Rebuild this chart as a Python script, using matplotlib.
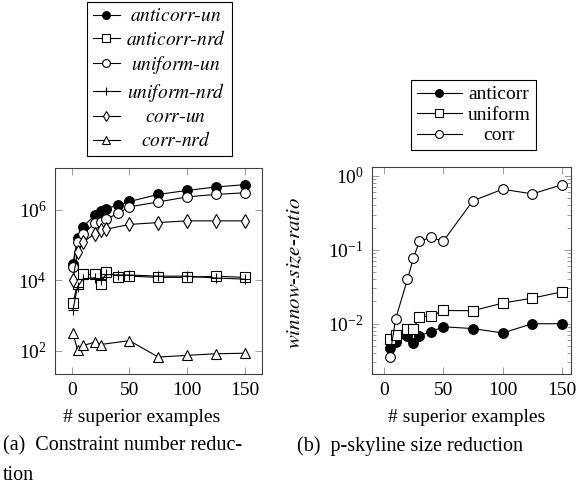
import numpy as np
import matplotlib.pyplot as plt
from matplotlib.ticker import FixedLocator, LogLocator, NullLocator

plt.rcParams['font.family'] = ['Liberation Serif', 'DejaVu Serif']
plt.rcParams['mathtext.fontset'] = 'stix'
plt.rcParams['font.size'] = 14

# --- (a) constraint number reduction ---
x_a = [1, 5, 10, 20, 25, 30, 40, 50, 75, 100, 125, 150]
anticorr_un = [2.9e4, 1.6e5, 3.3e5, 7.0e5, 9.0e5, 1.06e6, 1.35e6, 1.7e6, 2.7e6, 3.5e6, 4.4e6, 5.1e6]
anticorr_nrd = [2.2e3, 8.0e3, 1.45e4, 1.45e4, 7.8e3, 1.75e4, 1.25e4, 1.3e4, 1.2e4, 1.2e4, 1.3e4, 1.2e4]
uniform_un = [2.3e4, 1.2e5, 2.1e5, 4.1e5, 4.5e5, 5.3e5, 7.9e5, 1.2e6, 1.65e6, 2.3e6, 2.7e6, 3.0e6]
uniform_nrd = [1.4e3, 6.5e3, 1.1e4, 1.17e4, 1.0e4, 1.45e4, 1.4e4, 1.4e4, 1.3e4, 1.3e4, 1.15e4, 1.07e4]
x_corr_un = [1, 5, 10, 20, 25, 30, 50, 75, 100, 125, 150]
corr_un = [1.0e4, 6.3e4, 1.2e5, 2.1e5, 2.6e5, 2.8e5, 3.8e5, 4.3e5, 4.8e5, 4.8e5, 4.8e5]
x_corr_nrd = [1, 5, 10, 20, 25, 50, 75, 100, 125, 150]
corr_nrd = [316, 107, 141, 175, 150, 193, 66, 74, 82, 85]

# --- (b) p-skyline size reduction ---
x_b = [5, 10, 20, 25, 30, 40, 50, 75, 100, 125, 150]
anticorr = [0.0047, 0.0056, 0.0069, 0.0055, 0.0069, 0.0078, 0.0091, 0.0086, 0.0075, 0.0100, 0.0100]
uniform = [0.0062, 0.0071, 0.0086, 0.0085, 0.0125, 0.0127, 0.0151, 0.0150, 0.019, 0.0222, 0.027]
corr = [0.0035, 0.0115, 0.040, 0.077, 0.13, 0.148, 0.13, 0.46, 0.66, 0.57, 0.76]

W, H = 576, 495
fig = plt.figure(figsize=(W / 100, H / 100), dpi=100)


def box(x0, y0, x1, y1):
    # pixel box -> figure fraction
    return [x0 / W, 1 - y1 / H, (x1 - x0) / W, (y1 - y0) / H]


ax1 = fig.add_axes(box(55, 168, 262, 374))
ax2 = fig.add_axes(box(372, 167, 571, 374))

lw = 0.8
ms = 7
common = dict(color='black', lw=lw, ms=ms, mec='black', mew=0.8)

ax1.plot(x_a, anticorr_un, marker='o', mfc='black', label='$anticorr$-$un$', **common)
ax1.plot(x_a, anticorr_nrd, marker='s', mfc='white', label='$anticorr$-$nrd$', **common)
ax1.plot(x_a, uniform_un, marker='o', mfc='white', label='$uniform$-$un$', **common)
ax1.plot(x_a, uniform_nrd, marker='+', mfc='white', label='$uniform$-$nrd$', **common)
ax1.plot(x_corr_un, corr_un, marker='d', mfc='white', label='$corr$-$un$', **common)
ax1.plot(x_corr_nrd, corr_nrd, marker='^', mfc='white', label='$corr$-$nrd$', **common)

ax2.plot(x_b, anticorr, marker='o', mfc='black', label='anticorr', **common)
ax2.plot(x_b, uniform, marker='s', mfc='white', label='uniform', **common)
ax2.plot(x_b, corr, marker='o', mfc='white', label='corr', **common)

for ax in (ax1, ax2):
    ax.set_yscale('log')
    ax.xaxis.set_major_locator(FixedLocator([0, 50, 100, 150]))
    ax.tick_params(which='both', direction='in', top=True, right=True,
                   color='0.55', width=0.6)
    ax.tick_params(which='major', length=5, labelsize=14, pad=6)
    ax.tick_params(which='minor', length=3)
    for s in ax.spines.values():
        s.set_color('0.25')
        s.set_linewidth(0.8)
    ax.set_xlabel('# superior examples', fontsize=14)

ax1.set_xlim(-14.5, 164.8)
ax1.set_ylim(10 ** 1.34, 10 ** 7.18)
ax1.yaxis.set_major_locator(FixedLocator([1e2, 1e4, 1e6]))
ax1.yaxis.set_minor_locator(NullLocator())
ax1.xaxis.set_label_coords(0.42, -0.17)

ax2.set_xlim(-9.8, 157.5)
ax2.set_ylim(10 ** -2.68, 10 ** 0.12)
ax2.yaxis.set_major_locator(FixedLocator([1e-2, 1e-1, 1e0]))
ax2.yaxis.set_minor_locator(LogLocator(base=10, subs=np.arange(2, 10)))
ax2.xaxis.set_label_coords(0.475, -0.17)
ax2.set_ylabel('$winnow$-$size$-$ratio$', fontsize=15)
ax2.yaxis.set_label_coords(-0.337, 0.49)

leg_kw = dict(frameon=True, fancybox=False, edgecolor='black', framealpha=1,
              borderpad=0.3, handletextpad=0.3, markerscale=0.8,
              bbox_transform=fig.transFigure, borderaxespad=0)
leg1 = ax1.legend(loc='upper left', bbox_to_anchor=(87 / W, 1 - 2 / H),
                  handlelength=1.4, labelspacing=0.25, fontsize=14, **leg_kw)
leg2 = ax2.legend(loc='upper left', bbox_to_anchor=(411 / W, 1 - 80 / H),
                  handlelength=2.3, labelspacing=0.15, fontsize=14, **leg_kw)
for leg in (leg1, leg2):
    leg.get_frame().set_linewidth(0.8)

fig.text(3 / W, 1 - 446 / H, '(a)  Constraint number reduc-', fontsize=14.5, va='center')
fig.text(3 / W, 1 - 475 / H, 'tion', fontsize=14.5, va='center')
fig.text(297 / W, 1 - 446 / H, '(b)  p-skyline size reduction', fontsize=14.5, va='center')

# centre the legend labels like pgfplots does
fig.canvas.draw()
r = fig.canvas.get_renderer()
for leg in (leg1, leg2):
    texts = leg.get_texts()
    ws = [t.get_window_extent(r).width for t in texts]
    m = max(ws)
    for t, w in zip(texts, ws):
        t.set_x((m - w) / 2)

fig.savefig('out.png', dpi=100)
